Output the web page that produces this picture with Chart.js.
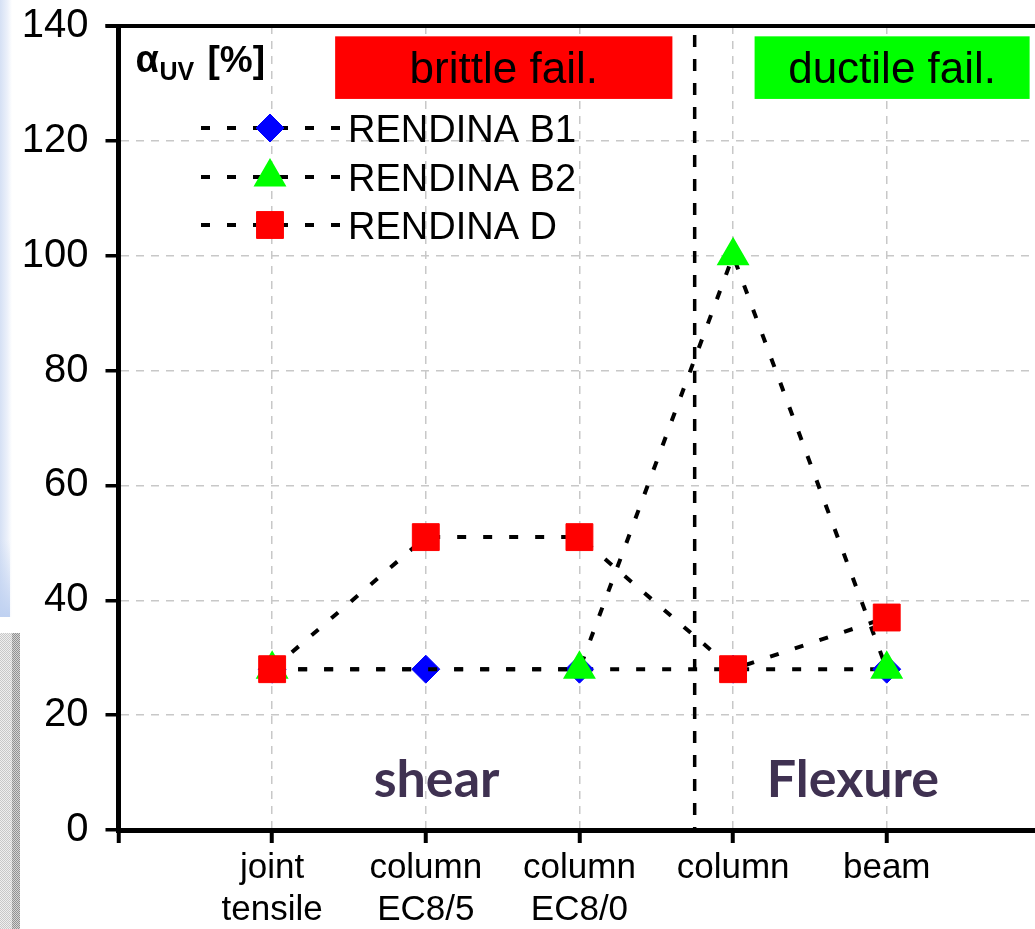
<!DOCTYPE html>
<html>
<head>
<meta charset="utf-8">
<script src="https://cdn.jsdelivr.net/npm/chart.js@4.4.0/dist/chart.umd.min.js"></script>
<style>
  html, body { margin: 0; padding: 0; background: #fff; overflow: hidden; }
  #wrap { position: relative; width: 1035px; height: 929px; }
  #wrap canvas { position: absolute; left: 0; top: 0; }
  .edge-blue { position: absolute; left: 0; top: 0; width: 12px; height: 617px;
    background: linear-gradient(to right, #d5e0f4, #ebf0fa 60%, #ffffff); }
  .edge-blue-low { position: absolute; left: 0; top: 540px; width: 10px; height: 77px;
    background: linear-gradient(to bottom, rgba(184,205,240,0), #bfd1f1); }
  .edge-grain { position: absolute; left: 0; top: 633px; width: 13px; height: 296px;
    background: repeating-conic-gradient(#c8c8c8 0 25%, #efefef 0 50%) 0 0 / 2px 2px; }
  .edge-grain-dark { position: absolute; left: 12px; top: 633px; width: 8px; height: 296px;
    background: repeating-conic-gradient(#919191 0 25%, #d4d4d4 0 50%) 0 0 / 2px 2px; }
</style>
</head>
<body>
<div id="wrap">
  <div class="edge-blue"></div>
  <div class="edge-blue-low"></div>
  <div class="edge-grain"></div>
  <div class="edge-grain-dark"></div>
  <canvas id="chart" width="1035" height="929"></canvas>
</div>
<script>
// Categories along the x axis (placed at x = 1..5)
const categories = [
  ['joint', 'tensile'],
  ['column', 'EC8/5'],
  ['column', 'EC8/0'],
  ['column'],
  ['beam']
];
const categoryPositions = [1, 2, 3, 4, 5];

// alpha_UV [%] per series
const rendinaB1 = [28, 28, 28, 28, 28];
const rendinaB2 = [28, null, 28, 100, 28];
const rendinaD  = [28, 51, 51, 28, 37];

const seriesNames = ['RENDINA B1', 'RENDINA B2', 'RENDINA D'];

// y axis ticks
const yTicks = [0, 20, 40, 60, 80, 100, 120, 140];

// boundary between brittle (shear) and ductile (flexure) failure
const splitAt = 3.75;

const FONT = "'Liberation Sans', Arial, sans-serif";

function toPoints(values) {
  return values.map((v, i) => ({ x: categoryPositions[i], y: v }));
}

const lineDash = [9, 17];

const datasets = [
  {
    label: seriesNames[0],
    data: toPoints(rendinaB1),
    borderColor: '#000', borderWidth: 4, borderDash: lineDash,
    pointStyle: 'rectRot', pointRadius: 14,
    pointBackgroundColor: '#0000ff', pointBorderColor: '#0000ff', pointBorderWidth: 1,
    order: 3
  },
  {
    label: seriesNames[1],
    data: toPoints(rendinaB2),
    spanGaps: true,
    borderColor: '#000', borderWidth: 4, borderDash: lineDash,
    pointStyle: 'triangle', pointRadius: 17,
    pointBackgroundColor: '#00ff00', pointBorderColor: '#00ff00', pointBorderWidth: 2,
    order: 2
  },
  {
    label: seriesNames[2],
    data: toPoints(rendinaD),
    borderColor: '#000', borderWidth: 4, borderDash: lineDash,
    pointStyle: 'rect', pointRadius: 19,
    pointBackgroundColor: '#ff0000', pointBorderColor: '#ff0000', pointBorderWidth: 1,
    order: 1
  }
];

// Decorations: top frame line, failure-mode separator, boxes, captions, legend
const decorations = {
  id: 'decorations',
  beforeDatasetsDraw(chart) {
    const { ctx, chartArea: a, scales: { x } } = chart;
    const sx = x.getPixelForValue(splitAt);
    ctx.save();
    ctx.strokeStyle = '#000';
    ctx.lineWidth = 3.5;
    ctx.setLineDash([12, 12]);
    ctx.beginPath();
    ctx.moveTo(sx, a.top + 9);
    ctx.lineTo(sx, a.bottom);
    ctx.stroke();
    ctx.restore();
  },
  afterDatasetsDraw(chart) {
    const { ctx, chartArea: a, scales: { x, y } } = chart;
    ctx.save();

    // top frame line
    ctx.strokeStyle = '#000';
    ctx.lineWidth = 4;
    ctx.beginPath();
    ctx.moveTo(a.left - 13, a.top);
    ctx.lineTo(a.right, a.top);
    ctx.stroke();

    // failure-mode boxes
    const boxes = [
      { x0: 1.41, x1: 3.605, color: '#ff0000', text: 'brittle fail.' },
      { x0: 4.14, x1: 5.93, color: '#00ff00', text: 'ductile fail.' }
    ];
    const by0 = y.getPixelForValue(138.2), by1 = y.getPixelForValue(127.3);
    boxes.forEach(b => {
      const px0 = x.getPixelForValue(b.x0), px1 = x.getPixelForValue(b.x1);
      ctx.fillStyle = b.color;
      ctx.fillRect(px0, by0, px1 - px0, by1 - by0);
      ctx.fillStyle = '#000';
      ctx.font = '44px ' + FONT;
      ctx.textAlign = 'center';
      ctx.textBaseline = 'alphabetic';
      ctx.fillText(b.text, (px0 + px1) / 2, by0 + 47);
    });

    // y quantity label: alpha_UV [%]
    ctx.textAlign = 'left';
    ctx.fillStyle = '#000';
    ctx.font = 'bold 38px ' + FONT;
    ctx.fillText('\u03B1', a.left + 17, a.top + 46);
    ctx.font = 'bold 25px ' + FONT;
    ctx.fillText('UV', a.left + 41, a.top + 54);
    ctx.font = 'bold 37px ' + FONT;
    ctx.fillText('[%]', a.left + 89, a.top + 46);

    // region captions
    ctx.fillStyle = '#3f3151';
    ctx.font = "bold 52px Lato, 'Open Sans', sans-serif";
    ctx.textAlign = 'center';
    ctx.fillText('shear', x.getPixelForValue(2.07), y.getPixelForValue(5.75));
    ctx.fillText('Flexure', x.getPixelForValue(4.78), y.getPixelForValue(5.75));

    // legend
    const rows = [128, 177, 225];
    chart.data.datasets.forEach((ds, i) => {
      const ry = rows[i];
      ctx.save();
      ctx.strokeStyle = '#000';
      ctx.lineWidth = 4;
      ctx.setLineDash(lineDash);
      ctx.beginPath();
      ctx.moveTo(201, ry);
      ctx.lineTo(341, ry);
      ctx.stroke();
      ctx.restore();
      ctx.save();
      ctx.fillStyle = ds.pointBackgroundColor;
      ctx.strokeStyle = ds.pointBorderColor;
      ctx.lineWidth = ds.pointBorderWidth;
      Chart.helpers.drawPoint(ctx, { pointStyle: ds.pointStyle, radius: ds.pointRadius, rotation: 0, borderWidth: ds.pointBorderWidth }, 270, ry);
      ctx.restore();
      ctx.fillStyle = '#000';
      ctx.font = '38px ' + FONT;
      ctx.textAlign = 'left';
      ctx.textBaseline = 'alphabetic';
      ctx.fillText(ds.label, 348, ry + 14);
    });

    ctx.restore();
  }
};

new Chart(document.getElementById('chart'), {
  type: 'line',
  data: { datasets },
  options: {
    responsive: false,
    animation: false,
    events: [],
    layout: { autoPadding: false, padding: { top: 26, left: 0, right: 0, bottom: 0 } },
    elements: { line: { tension: 0 } },
    plugins: { legend: { display: false }, tooltip: { enabled: false } },
    scales: {
      x: {
        type: 'linear',
        min: 0,
        max: 5.965,
        afterBuildTicks: s => { s.ticks = [0].concat(categoryPositions).map(v => ({ value: v })); },
        afterFit: s => {
          s.height = 99;
          s.paddingLeft = 0; s.paddingRight = 0; s.paddingTop = 0; s.paddingBottom = 0;
        },
        ticks: {
          autoSkip: false,
          maxRotation: 0,
          padding: 4,
          color: '#000',
          font: { family: FONT, size: 35, lineHeight: 1.2 },
          callback: v => {
            const i = categoryPositions.indexOf(v);
            return i >= 0 ? categories[i] : '';
          }
        },
        grid: {
          color: c => (c.tick && c.tick.value === 0) ? 'rgba(0,0,0,0)' : '#c8c8c8',
          lineWidth: 1.5,
          tickColor: '#000',
          tickWidth: 4,
          tickLength: 13
        },
        border: { display: true, color: '#000', width: 5, dash: [8, 7] }
      },
      y: {
        min: 0,
        max: 140,
        afterBuildTicks: s => { s.ticks = yTicks.map(v => ({ value: v })); },
        afterFit: s => {
          s.width = 118.5;
          s.paddingLeft = 0; s.paddingRight = 0; s.paddingTop = 0; s.paddingBottom = 0;
        },
        ticks: {
          padding: 17,
          color: '#000',
          font: { family: FONT, size: 40 }
        },
        grid: {
          color: c => (c.tick && (c.tick.value === 0 || c.tick.value === 140)) ? 'rgba(0,0,0,0)' : '#c8c8c8',
          lineWidth: 1.5,
          tickColor: '#000',
          tickWidth: 3.5,
          tickLength: 13
        },
        border: { display: true, color: '#000', width: 5, dash: [8, 7] }
      }
    }
  },
  plugins: [decorations]
});
</script>
</body>
</html>
